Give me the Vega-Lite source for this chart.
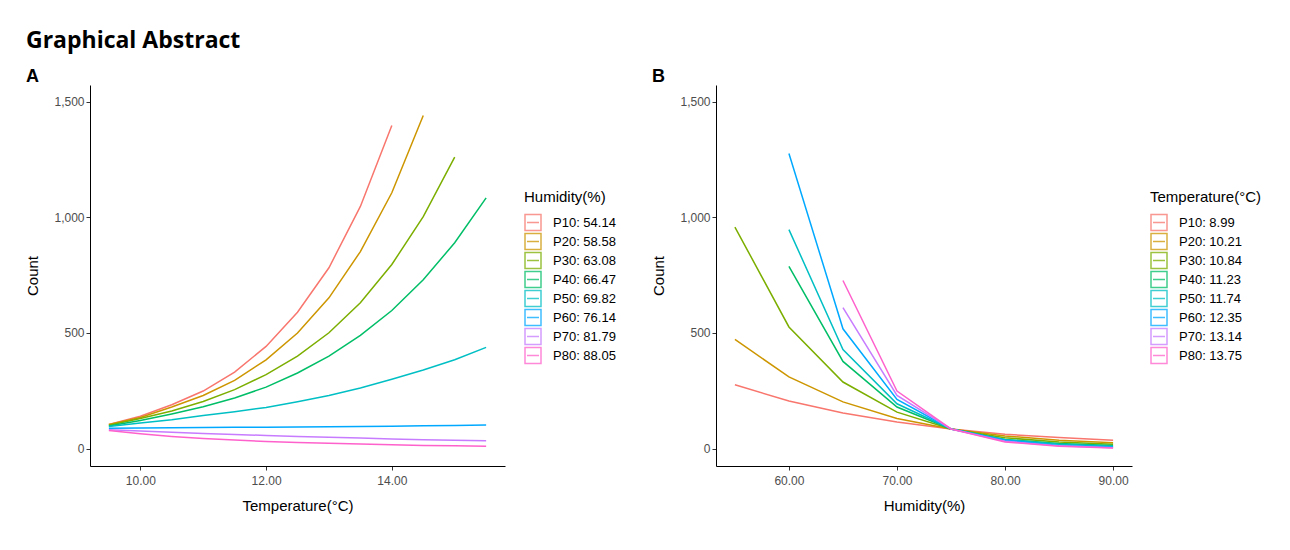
{
  "$schema": "https://vega.github.io/schema/vega-lite/v6.json",
  "background": "white",
  "padding": {"left": 25, "top": 30, "right": 5, "bottom": 5},
  "title": {"text": "Graphical Abstract", "anchor": "start", "frame": "bounds", "font": "Open Sans", "fontSize": 23, "fontWeight": "bold", "color": "black", "offset": 15},
  "spacing": 35,
  "resolve": {"scale": {"color": "independent"}, "legend": {"color": "independent"}},
  "config": {
    "view": {"stroke": null},
    "axis": {"grid": false, "domainColor": "black", "domainWidth": 1, "tickColor": "#333333", "tickSize": 4, "labelPadding": 2, "labelColor": "#4d4d4d", "labelFont": "Liberation Sans", "labelFontSize": 12, "titleFont": "Liberation Sans", "titleFontSize": 15, "titleFontWeight": "normal", "titleColor": "black"},
    "axisX": {"titlePadding": 12, "labelPadding": 5},
    "axisY": {"titlePadding": 13},
    "legend": {"titleFont": "Liberation Sans", "titleFontSize": 15, "titleFontWeight": "normal", "titleColor": "black", "labelFont": "Liberation Sans", "labelFontSize": 13, "labelColor": "black", "symbolType": "M-1,-1H1V1H-1Z M-0.75,0H0.75", "symbolSize": 256, "symbolStrokeWidth": 1.5, "symbolOpacity": 0.75, "rowPadding": 0, "clipHeight": 19, "labelOffset": 11, "titlePadding": 8, "padding": 0, "titleLimit": 300, "labelLimit": 300},
    "title": {"font": "Liberation Sans", "fontSize": 18, "fontWeight": "bold", "color": "black"}
  },
  "datasets": {
    "a": [
      {"temp": 9.5, "humidity": "P10: 54.14", "count": 105}, {"temp": 10, "humidity": "P10: 54.14", "count": 140}, {"temp": 10.5, "humidity": "P10: 54.14", "count": 190}, {"temp": 11, "humidity": "P10: 54.14", "count": 249}, {"temp": 11.5, "humidity": "P10: 54.14", "count": 331}, {"temp": 12, "humidity": "P10: 54.14", "count": 442}, {"temp": 12.5, "humidity": "P10: 54.14", "count": 590}, {"temp": 13, "humidity": "P10: 54.14", "count": 782}, {"temp": 13.5, "humidity": "P10: 54.14", "count": 1047}, {"temp": 14, "humidity": "P10: 54.14", "count": 1397},
      {"temp": 9.5, "humidity": "P20: 58.58", "count": 104}, {"temp": 10, "humidity": "P20: 58.58", "count": 135}, {"temp": 10.5, "humidity": "P20: 58.58", "count": 180}, {"temp": 11, "humidity": "P20: 58.58", "count": 230}, {"temp": 11.5, "humidity": "P20: 58.58", "count": 295}, {"temp": 12, "humidity": "P20: 58.58", "count": 384}, {"temp": 12.5, "humidity": "P20: 58.58", "count": 500}, {"temp": 13, "humidity": "P20: 58.58", "count": 652}, {"temp": 13.5, "humidity": "P20: 58.58", "count": 852}, {"temp": 14, "humidity": "P20: 58.58", "count": 1106}, {"temp": 14.5, "humidity": "P20: 58.58", "count": 1440},
      {"temp": 9.5, "humidity": "P30: 63.08", "count": 101}, {"temp": 10, "humidity": "P30: 63.08", "count": 130}, {"temp": 10.5, "humidity": "P30: 63.08", "count": 163}, {"temp": 11, "humidity": "P30: 63.08", "count": 204}, {"temp": 11.5, "humidity": "P30: 63.08", "count": 255}, {"temp": 12, "humidity": "P30: 63.08", "count": 320}, {"temp": 12.5, "humidity": "P30: 63.08", "count": 400}, {"temp": 13, "humidity": "P30: 63.08", "count": 501}, {"temp": 13.5, "humidity": "P30: 63.08", "count": 631}, {"temp": 14, "humidity": "P30: 63.08", "count": 796}, {"temp": 14.5, "humidity": "P30: 63.08", "count": 1003}, {"temp": 15, "humidity": "P30: 63.08", "count": 1260},
      {"temp": 9.5, "humidity": "P40: 66.47", "count": 98}, {"temp": 10, "humidity": "P40: 66.47", "count": 122}, {"temp": 10.5, "humidity": "P40: 66.47", "count": 150}, {"temp": 11, "humidity": "P40: 66.47", "count": 181}, {"temp": 11.5, "humidity": "P40: 66.47", "count": 219}, {"temp": 12, "humidity": "P40: 66.47", "count": 266}, {"temp": 12.5, "humidity": "P40: 66.47", "count": 327}, {"temp": 13, "humidity": "P40: 66.47", "count": 400}, {"temp": 13.5, "humidity": "P40: 66.47", "count": 490}, {"temp": 14, "humidity": "P40: 66.47", "count": 597}, {"temp": 14.5, "humidity": "P40: 66.47", "count": 730}, {"temp": 15, "humidity": "P40: 66.47", "count": 890}, {"temp": 15.5, "humidity": "P40: 66.47", "count": 1084},
      {"temp": 9.5, "humidity": "P50: 69.82", "count": 96}, {"temp": 10, "humidity": "P50: 69.82", "count": 111}, {"temp": 10.5, "humidity": "P50: 69.82", "count": 125}, {"temp": 11, "humidity": "P50: 69.82", "count": 143}, {"temp": 11.5, "humidity": "P50: 69.82", "count": 160}, {"temp": 12, "humidity": "P50: 69.82", "count": 178}, {"temp": 12.5, "humidity": "P50: 69.82", "count": 203}, {"temp": 13, "humidity": "P50: 69.82", "count": 230}, {"temp": 13.5, "humidity": "P50: 69.82", "count": 262}, {"temp": 14, "humidity": "P50: 69.82", "count": 300}, {"temp": 14.5, "humidity": "P50: 69.82", "count": 340}, {"temp": 15, "humidity": "P50: 69.82", "count": 384}, {"temp": 15.5, "humidity": "P50: 69.82", "count": 438},
      {"temp": 9.5, "humidity": "P60: 76.14", "count": 88}, {"temp": 10, "humidity": "P60: 76.14", "count": 89}, {"temp": 10.5, "humidity": "P60: 76.14", "count": 90}, {"temp": 11, "humidity": "P60: 76.14", "count": 91}, {"temp": 11.5, "humidity": "P60: 76.14", "count": 92}, {"temp": 12, "humidity": "P60: 76.14", "count": 93}, {"temp": 12.5, "humidity": "P60: 76.14", "count": 94}, {"temp": 13, "humidity": "P60: 76.14", "count": 95}, {"temp": 13.5, "humidity": "P60: 76.14", "count": 96}, {"temp": 14, "humidity": "P60: 76.14", "count": 97}, {"temp": 14.5, "humidity": "P60: 76.14", "count": 99}, {"temp": 15, "humidity": "P60: 76.14", "count": 100}, {"temp": 15.5, "humidity": "P60: 76.14", "count": 102},
      {"temp": 9.5, "humidity": "P70: 81.79", "count": 82}, {"temp": 10, "humidity": "P70: 81.79", "count": 76}, {"temp": 10.5, "humidity": "P70: 81.79", "count": 71}, {"temp": 11, "humidity": "P70: 81.79", "count": 66}, {"temp": 11.5, "humidity": "P70: 81.79", "count": 61}, {"temp": 12, "humidity": "P70: 81.79", "count": 57}, {"temp": 12.5, "humidity": "P70: 81.79", "count": 53}, {"temp": 13, "humidity": "P70: 81.79", "count": 49}, {"temp": 13.5, "humidity": "P70: 81.79", "count": 46}, {"temp": 14, "humidity": "P70: 81.79", "count": 42}, {"temp": 14.5, "humidity": "P70: 81.79", "count": 39}, {"temp": 15, "humidity": "P70: 81.79", "count": 36}, {"temp": 15.5, "humidity": "P70: 81.79", "count": 34},
      {"temp": 9.5, "humidity": "P80: 88.05", "count": 78}, {"temp": 10, "humidity": "P80: 88.05", "count": 64}, {"temp": 10.5, "humidity": "P80: 88.05", "count": 53}, {"temp": 11, "humidity": "P80: 88.05", "count": 44}, {"temp": 11.5, "humidity": "P80: 88.05", "count": 37}, {"temp": 12, "humidity": "P80: 88.05", "count": 31}, {"temp": 12.5, "humidity": "P80: 88.05", "count": 27}, {"temp": 13, "humidity": "P80: 88.05", "count": 23}, {"temp": 13.5, "humidity": "P80: 88.05", "count": 20}, {"temp": 14, "humidity": "P80: 88.05", "count": 17}, {"temp": 14.5, "humidity": "P80: 88.05", "count": 14}, {"temp": 15, "humidity": "P80: 88.05", "count": 12}, {"temp": 15.5, "humidity": "P80: 88.05", "count": 10}
    ],
    "b": [
      {"hum": 55, "temperature": "P10: 8.99", "count": 276}, {"hum": 60, "temperature": "P10: 8.99", "count": 206}, {"hum": 65, "temperature": "P10: 8.99", "count": 154}, {"hum": 70, "temperature": "P10: 8.99", "count": 115}, {"hum": 75, "temperature": "P10: 8.99", "count": 85}, {"hum": 80, "temperature": "P10: 8.99", "count": 62}, {"hum": 85, "temperature": "P10: 8.99", "count": 48}, {"hum": 90, "temperature": "P10: 8.99", "count": 36},
      {"hum": 55, "temperature": "P20: 10.21", "count": 472}, {"hum": 60, "temperature": "P20: 10.21", "count": 310}, {"hum": 65, "temperature": "P20: 10.21", "count": 202}, {"hum": 70, "temperature": "P20: 10.21", "count": 130}, {"hum": 75, "temperature": "P20: 10.21", "count": 85}, {"hum": 80, "temperature": "P20: 10.21", "count": 55}, {"hum": 85, "temperature": "P20: 10.21", "count": 36}, {"hum": 90, "temperature": "P20: 10.21", "count": 25},
      {"hum": 55, "temperature": "P30: 10.84", "count": 958}, {"hum": 60, "temperature": "P30: 10.84", "count": 526}, {"hum": 65, "temperature": "P30: 10.84", "count": 288}, {"hum": 70, "temperature": "P30: 10.84", "count": 158}, {"hum": 75, "temperature": "P30: 10.84", "count": 85}, {"hum": 80, "temperature": "P30: 10.84", "count": 47}, {"hum": 85, "temperature": "P30: 10.84", "count": 29}, {"hum": 90, "temperature": "P30: 10.84", "count": 19},
      {"hum": 60, "temperature": "P40: 11.23", "count": 788}, {"hum": 65, "temperature": "P40: 11.23", "count": 377}, {"hum": 70, "temperature": "P40: 11.23", "count": 180}, {"hum": 75, "temperature": "P40: 11.23", "count": 85}, {"hum": 80, "temperature": "P40: 11.23", "count": 40}, {"hum": 85, "temperature": "P40: 11.23", "count": 22}, {"hum": 90, "temperature": "P40: 11.23", "count": 14},
      {"hum": 60, "temperature": "P50: 11.74", "count": 947}, {"hum": 65, "temperature": "P50: 11.74", "count": 428}, {"hum": 70, "temperature": "P50: 11.74", "count": 194}, {"hum": 75, "temperature": "P50: 11.74", "count": 85}, {"hum": 80, "temperature": "P50: 11.74", "count": 39}, {"hum": 85, "temperature": "P50: 11.74", "count": 19}, {"hum": 90, "temperature": "P50: 11.74", "count": 10},
      {"hum": 60, "temperature": "P60: 12.35", "count": 1276}, {"hum": 65, "temperature": "P60: 12.35", "count": 518}, {"hum": 70, "temperature": "P60: 12.35", "count": 213}, {"hum": 75, "temperature": "P60: 12.35", "count": 85}, {"hum": 80, "temperature": "P60: 12.35", "count": 36}, {"hum": 85, "temperature": "P60: 12.35", "count": 14}, {"hum": 90, "temperature": "P60: 12.35", "count": 7},
      {"hum": 65, "temperature": "P70: 13.14", "count": 610}, {"hum": 70, "temperature": "P70: 13.14", "count": 230}, {"hum": 75, "temperature": "P70: 13.14", "count": 85}, {"hum": 80, "temperature": "P70: 13.14", "count": 32}, {"hum": 85, "temperature": "P70: 13.14", "count": 12}, {"hum": 90, "temperature": "P70: 13.14", "count": 4},
      {"hum": 65, "temperature": "P80: 13.75", "count": 727}, {"hum": 70, "temperature": "P80: 13.75", "count": 249}, {"hum": 75, "temperature": "P80: 13.75", "count": 85}, {"hum": 80, "temperature": "P80: 13.75", "count": 29}, {"hum": 85, "temperature": "P80: 13.75", "count": 10}, {"hum": 90, "temperature": "P80: 13.75", "count": 3}
    ]
  },
  "hconcat": [
    {
      "width": 415, "height": 381,
      "title": {"text": "A", "anchor": "start", "frame": "bounds", "offset": -1},
      "data": {"name": "a"},
      "mark": {"type": "line", "strokeWidth": 1.5},
      "encoding": {
        "x": {"field": "temp", "type": "quantitative", "scale": {"domain": [9.2, 15.8], "nice": false, "zero": false}, "axis": {"values": [10, 12, 14], "format": ".2f", "title": "Temperature(°C)"}},
        "y": {"field": "count", "type": "quantitative", "scale": {"domain": [-75, 1572], "nice": false, "zero": false}, "axis": {"values": [0, 500, 1000, 1500], "format": ",.0f", "title": "Count"}},
        "color": {"field": "humidity", "type": "nominal",
          "scale": {"domain": ["P10: 54.14", "P20: 58.58", "P30: 63.08", "P40: 66.47", "P50: 69.82", "P60: 76.14", "P70: 81.79", "P80: 88.05"], "range": ["#F8766D", "#CD9600", "#7CAE00", "#00BE67", "#00BFC4", "#00A9FF", "#C77CFF", "#FF61CC"]},
          "legend": {"title": "Humidity(%)", "orient": "none", "legendX": 434, "legendY": 105}}
      }
    },
    {
      "width": 416, "height": 381,
      "title": {"text": "B", "anchor": "start", "frame": "bounds", "offset": -1},
      "data": {"name": "b"},
      "mark": {"type": "line", "strokeWidth": 1.5},
      "encoding": {
        "x": {"field": "hum", "type": "quantitative", "scale": {"domain": [53.25, 91.75], "nice": false, "zero": false}, "axis": {"values": [60, 70, 80, 90], "format": ".2f", "title": "Humidity(%)"}},
        "y": {"field": "count", "type": "quantitative", "scale": {"domain": [-75, 1572], "nice": false, "zero": false}, "axis": {"values": [0, 500, 1000, 1500], "format": ",.0f", "title": "Count"}},
        "color": {"field": "temperature", "type": "nominal",
          "scale": {"domain": ["P10: 8.99", "P20: 10.21", "P30: 10.84", "P40: 11.23", "P50: 11.74", "P60: 12.35", "P70: 13.14", "P80: 13.75"], "range": ["#F8766D", "#CD9600", "#7CAE00", "#00BE67", "#00BFC4", "#00A9FF", "#C77CFF", "#FF61CC"]},
          "legend": {"title": "Temperature(°C)", "orient": "none", "legendX": 434, "legendY": 105}}
      }
    }
  ]
}
